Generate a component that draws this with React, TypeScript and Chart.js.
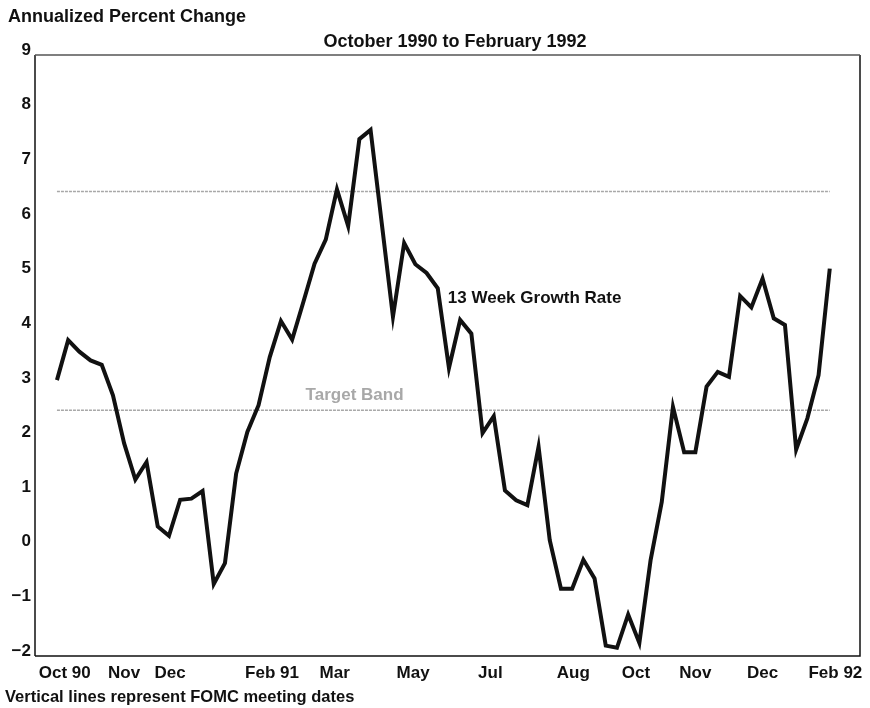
import React, { useEffect, useRef } from 'react';
import { Chart, registerables } from 'chart.js';

Chart.register(...registerables);

// 13-week growth rate, one value per week, Oct 1990 .. Feb 1992
const growthRate = [
  3.05, 3.78, 3.57, 3.41, 3.33, 2.77, 1.89, 1.23, 1.55, 0.37,
  0.2, 0.86, 0.88, 1.02, -0.68, -0.3, 1.34, 2.1, 2.59, 3.47,
  4.13, 3.79, 4.48, 5.18, 5.62, 6.54, 5.87, 7.46, 7.63, 5.92,
  4.21, 5.56, 5.17, 5.01, 4.73, 3.27, 4.15, 3.9, 2.08, 2.39,
  1.03, 0.85, 0.76, 1.83, 0.12, -0.77, -0.77, -0.24, -0.58, -1.81,
  -1.85, -1.24, -1.76, -0.25, 0.82, 2.56, 1.73, 1.73, 2.93, 3.2,
  3.11, 4.59, 4.38, 4.91, 4.18, 4.06, 1.78, 2.35, 3.14, 5.09,
];
const weekIndex = growthRate.map((_, i) => i);
const targetBandLow = 2.5;
const targetBandHigh = 6.5;
const bandStartWeek = 0;
const bandEndWeek = 69;
const monthTickWeeks = [0.7, 6.0, 10.1, 19.2, 24.8, 31.8, 38.7, 46.1, 51.7, 57.0, 63.0, 69.5];
const monthTickLabels = ['Oct 90', 'Nov', 'Dec', 'Feb 91', 'Mar', 'May', 'Jul', 'Aug', 'Oct', 'Nov', 'Dec', 'Feb 92'];
const yMin = -2;
const yMax = 9;

const FONT = '"Liberation Sans", Arial, Helvetica, sans-serif';
const INK = '#111111';
const BAND = '#a8a8a8';

const textPlugin = {
  id: 'chartTexts',
  afterDraw(chart: any) {
    const { ctx, chartArea, scales } = chart;
    const x = scales.x;
    const y = scales.y;
    ctx.save();
    // frame
    ctx.lineWidth = 1.5;
    ctx.strokeStyle = INK;
    ctx.beginPath();
    ctx.moveTo(chartArea.left, chartArea.bottom);
    ctx.lineTo(chartArea.right, chartArea.bottom);
    ctx.lineTo(chartArea.right, chartArea.top);
    ctx.moveTo(chartArea.left, chartArea.top);
    ctx.lineTo(chartArea.left, chartArea.bottom);
    ctx.stroke();
    ctx.strokeStyle = '#555555';
    ctx.beginPath();
    ctx.moveTo(chartArea.left, chartArea.top);
    ctx.lineTo(chartArea.right, chartArea.top);
    ctx.stroke();

    ctx.fillStyle = INK;
    ctx.textBaseline = 'middle';
    ctx.textAlign = 'center';
    ctx.font = `bold 18px ${FONT}`;
    ctx.fillText('October 1990 to February 1992', 455, 42);

    ctx.textAlign = 'left';
    ctx.font = `bold 17px ${FONT}`;
    ctx.fillText('13 Week Growth Rate', x.getPixelForValue(34.9), y.getPixelForValue(4.55));
    ctx.font = `bold 16.5px ${FONT}`;
    ctx.fillText('Vertical lines represent FOMC meeting dates', 5, 697);

    ctx.font = `bold 17px ${FONT}`;
    ctx.fillStyle = BAND;
    ctx.fillText('Target Band', x.getPixelForValue(22.2), y.getPixelForValue(2.78));
    ctx.restore();
  },
};

export default function App() {
  const ref = useRef<HTMLCanvasElement>(null);
  useEffect(() => {
    if (!ref.current) return;
    const chart = new Chart(ref.current, {
      type: 'line',
      data: {
        datasets: [
          {
            label: '13 Week Growth Rate',
            data: growthRate.map((v, i) => ({ x: weekIndex[i], y: v })),
            borderColor: INK,
            borderWidth: 4,
            pointRadius: 0,
            tension: 0,
            borderJoinStyle: 'miter',
          },
          {
            label: 'Target Band high',
            data: [
              { x: bandStartWeek, y: targetBandHigh },
              { x: bandEndWeek, y: targetBandHigh },
            ],
            borderColor: BAND,
            borderWidth: 1.5,
            borderDash: [3, 1],
            pointRadius: 0,
          },
          {
            label: 'Target Band low',
            data: [
              { x: bandStartWeek, y: targetBandLow },
              { x: bandEndWeek, y: targetBandLow },
            ],
            borderColor: BAND,
            borderWidth: 1.5,
            borderDash: [3, 1],
            pointRadius: 0,
          },
        ],
      },
      options: {
        animation: false,
        responsive: false,
        maintainAspectRatio: false,
        layout: { padding: { left: 8, right: 10, top: 0, bottom: 0 } },
        plugins: {
          legend: { display: false },
          tooltip: { enabled: false },
          title: {
            display: true,
            text: 'Annualized Percent Change',
            align: 'start',
            color: INK,
            font: { family: FONT, size: 18, weight: 'bold' },
            padding: { top: 6, bottom: 27.4 },
          },
        },
        scales: {
          x: {
            type: 'linear',
            min: -1.96,
            max: 71.7,
            grid: { display: false, drawTicks: false },
            border: { display: false },
            afterFit: (s: any) => {
              s.height = 52;
            },
            afterBuildTicks: (s: any) => {
              s.ticks = monthTickWeeks.map((v) => ({ value: v }));
            },
            ticks: {
              autoSkip: false,
              maxRotation: 0,
              padding: 7,
              color: INK,
              font: { family: FONT, size: 17, weight: 'bold' },
              callback: (_v: any, i: number) => monthTickLabels[i],
            },
          },
          y: {
            type: 'linear',
            min: yMin,
            max: yMax,
            grid: { display: false, drawTicks: false },
            border: { display: false },
            afterFit: (s: any) => {
              s.width = 27;
            },
            ticks: {
              stepSize: 1,
              padding: 4,
              labelOffset: -5,
              color: INK,
              font: { family: FONT, size: 17, weight: 'bold' },
              callback: (v: any) => (v < 0 ? '\u2212' + String(-v) : String(v)),
            },
          },
        },
      },
      plugins: [textPlugin],
    });
    return () => chart.destroy();
  }, []);
  return (
    <div style={{ position: 'fixed', left: 0, top: 0, width: 870, height: 708, background: '#fff' }}>
      <canvas ref={ref} width={870} height={708} style={{ width: 870, height: 708 }} />
    </div>
  );
}
